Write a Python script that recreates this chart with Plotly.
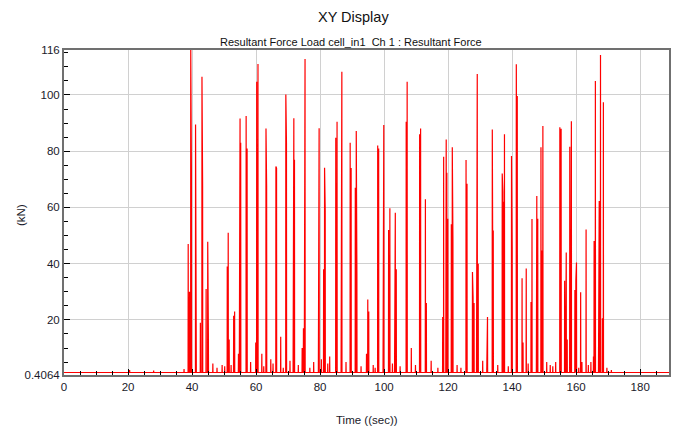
import plotly.graph_objects as go

# ---- data ----
title_text = "XY Display"
subtitle_text = "Resultant Force Load cell_in1  Ch 1 : Resultant Force"
x_label = "Time ((sec))"
y_label = "(kN)"

t_start = 0.0
t_end = 189.0
baseline_level = 1.3

# spike times (s) and peak forces (kN)
spike_times = [
    38.8, 39.2, 39.6, 39.8, 41.1, 41.3, 42.6, 43.1, 43.3, 44.4, 44.9, 45.1,
    49.4, 51.0, 51.3, 51.6, 53.0, 53.3, 54.5, 54.8, 55.0, 55.2, 56.9, 57.2,
    59.9, 60.2, 60.6, 61.8, 63.1, 63.3, 64.6, 66.2, 66.4, 67.7, 69.3, 69.5,
    71.6, 71.8, 72.0, 74.4, 74.8, 75.1, 75.3, 78.0, 79.5, 79.7, 81.1, 81.4,
    81.6, 83.0, 84.9, 85.3, 86.6, 86.8, 89.4, 89.7, 91.0, 91.3, 91.5, 94.5,
    94.9, 95.2, 98.0, 98.3, 99.7, 99.9, 101.4, 101.8, 103.3, 103.5, 103.8,
    106.9, 107.2, 108.5, 111.1, 111.4, 112.9, 113.2, 118.3, 118.6, 119.3,
    119.4, 119.6, 119.9, 121.0, 121.3, 121.5, 125.6, 125.9, 127.6, 127.8,
    128.1, 128.9, 129.1, 129.4, 132.1, 132.3, 133.8, 134.1, 136.9, 137.1,
    137.3, 137.6, 139.8, 140.0, 141.3, 141.5, 141.6, 143.1, 143.4, 144.4,
    145.9, 146.2, 147.6, 147.7, 148.0, 149.0, 149.3, 149.6, 154.9, 155.1,
    155.3, 156.4, 156.7, 156.9, 157.2, 158.0, 158.3, 158.5, 159.6, 159.9,
    160.1, 161.4, 161.8, 163.1, 164.6, 165.4, 165.6, 166.0, 167.0, 167.2,
    167.6, 168.2, 168.5,
]
spike_peaks = [
    47.0, 30.0, 116.0, 73.0, 89.5, 63.7, 19.0, 106.5, 67.7, 31.0, 47.8, 15.0,
    4.0, 39.0, 51.0, 13.0, 21.5, 23.0, 8.0, 33.8, 91.6, 83.0, 92.5, 81.0,
    12.0, 104.7, 111.0, 8.0, 88.1, 67.7, 6.0, 74.6, 74.0, 14.0, 100.2, 83.0,
    45.0, 91.7, 77.0, 10.0, 17.0, 103.2, 112.8, 5.0, 71.8, 88.2, 38.0, 74.1,
    59.0, 7.0, 84.8, 90.5, 94.0, 108.3, 83.0, 74.0, 67.0, 87.2, 36.0, 8.0,
    27.3, 23.0, 82.0, 81.0, 79.0, 89.3, 52.0, 59.7, 37.0, 58.1, 38.0,
    90.5, 104.7, 10.0, 86.0, 88.1, 62.9, 26.0, 21.0, 78.0, 48.0,
    84.2, 72.3, 56.0, 54.0, 81.4, 48.0, 76.9, 68.4, 37.0, 27.7,
    26.0, 66.2, 107.5, 40.0, 15.0, 21.0, 87.7, 51.8, 72.1, 65.6,
    62.0, 86.0, 78.3, 46.0, 110.9, 71.0, 99.6, 34.8, 12.0, 38.3,
    26.4, 55.9, 43.4, 64.1, 56.0, 81.4, 44.7, 89.0, 88.5, 77.5,
    88.0, 33.9, 36.0, 44.0, 13.0, 81.6, 68.0, 90.7, 30.6, 34.0,
    40.4, 29.8, 5.0, 52.2, 5.0, 7.0, 48.1, 105.0, 55.6, 62.3,
    114.2, 20.6, 97.4,
]

# small bumps in the noisy band between the impacts
noise_times = [
    20.5, 28.0, 37.5, 46.5, 47.8, 50.2, 52.2, 58.3, 62.4, 65.3, 68.5, 70.6,
    73.2, 76.8, 80.4, 82.4, 88.1, 92.8, 96.6, 97.2, 102.6, 105.0, 109.8,
    114.7, 116.8, 122.8, 124.0, 130.8, 135.5, 138.8, 145.0, 150.8, 151.9,
    152.7, 153.6, 160.8, 163.8, 169.6, 171.0,
]
noise_peaks = [
    2.2, 2.0, 2.5, 4.5, 3.0, 3.5, 4.0, 5.0, 3.5, 4.5, 3.0, 5.5,
    4.0, 3.0, 6.0, 4.5, 5.0, 3.5, 4.0, 3.0, 4.5, 3.5, 4.0,
    5.5, 3.0, 4.0, 3.0, 5.5, 4.0, 3.5, 4.5, 5.0, 4.0,
    3.5, 5.0, 3.0, 4.0, 3.0, 2.2,
]

y_tick_vals = [0.4064, 20, 40, 60, 80, 100, 116]
y_tick_text = ["0.4064", "20", "40", "60", "80", "100", "116"]
x_tick_vals = [0, 20, 40, 60, 80, 100, 120, 140, 160, 180]
y_range = [0.4064, 116]

# ---- build the trace ----
events = sorted(zip(spike_times + noise_times, spike_peaks + noise_peaks))
xs = [t_start]
ys = [baseline_level]
half = 0.04
for t, v in events:
    xs += [t - half, t, t + half]
    ys += [baseline_level, v, baseline_level]
xs.append(t_end)
ys.append(baseline_level)

fig = go.Figure()
fig.add_trace(go.Scatter(
    x=xs, y=ys, mode="lines",
    line=dict(color="#ff0000", width=1.2),
    hoverinfo="skip", showlegend=False,
))

font_family = "Liberation Sans, Arial, sans-serif"
# the page body adds an 8px offset, so the figure is 8px smaller
OFF = 8
W, H = 680 - OFF, 430 - OFF
L, R, T, B = 64 - OFF, 11, 50 - OFF, 55
plot_w = W - L - R
plot_h = H - T - B


def px_x(p):
    return (p - OFF - L) / plot_w


def px_y(p):
    return (H - B - (p - OFF)) / plot_h


fig.update_layout(
    width=W, height=H,
    margin=dict(l=L, r=R, t=T, b=B),
    paper_bgcolor="white", plot_bgcolor="white",
    font=dict(family=font_family, size=11, color="#1a1a2a"),
    showlegend=False,
    annotations=[
        dict(text=title_text, xref="paper", yref="paper",
             x=px_x(353), y=px_y(OFF), xanchor="center",
             yanchor="top", showarrow=False, borderpad=0,
             font=dict(size=14.5, color="#111111", family=font_family)),
        dict(text=subtitle_text, xref="paper", yref="paper",
             x=px_x(351), y=px_y(42), xanchor="center",
             yanchor="middle", showarrow=False,
             font=dict(size=11, color="#111111", family=font_family)),
        dict(text=x_label, xref="paper", yref="paper",
             x=px_x(367), y=px_y(420), xanchor="center",
             yanchor="middle", showarrow=False,
             font=dict(size=11.5, color="#1a1a2a", family=font_family)),
        dict(text=y_label, xref="paper", yref="paper",
             x=px_x(21), y=px_y(215), xanchor="center",
             yanchor="middle", showarrow=False, textangle=-90,
             font=dict(size=11.5, color="#1a1a2a", family=font_family)),
    ],
)

fig.update_xaxes(
    range=[t_start, t_end], automargin=False,
    tickmode="array", tickvals=x_tick_vals,
    ticks="inside", ticklen=6, tickcolor="#000000", tickwidth=1,
    minor=dict(dtick=5, tick0=0, ticks="inside", ticklen=4,
               tickcolor="#000000", showgrid=False),
    showgrid=True, gridcolor="#d0d0d0", gridwidth=1,
    zeroline=False,
    showline=True, linecolor="#707070", linewidth=2, mirror=True,
    tickfont=dict(size=11.5),
)

fig.update_yaxes(
    range=y_range, automargin=False,
    tickmode="array", tickvals=y_tick_vals, ticktext=y_tick_text,
    ticks="inside", ticklen=6, tickcolor="#000000", tickwidth=1,
    minor=dict(dtick=5, tick0=0, ticks="inside", ticklen=4,
               tickcolor="#000000", showgrid=False),
    showgrid=True, gridcolor="#d0d0d0", gridwidth=1,
    zeroline=False,
    showline=True, linecolor="#707070", linewidth=2, mirror=True,
    tickfont=dict(size=11.5),
)

fig.write_html("out.html")
